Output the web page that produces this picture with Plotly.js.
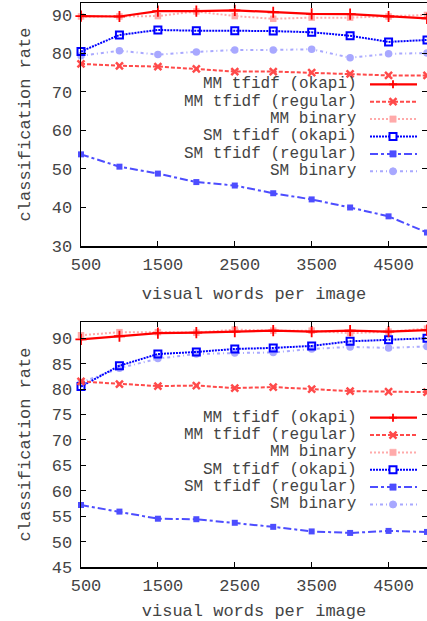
<!DOCTYPE html>
<html>
<head>
<meta charset="utf-8">
<script src="https://cdn.plot.ly/plotly-3.0.1.min.js"></script>
<style>html,body{margin:0;padding:0;background:#fff;}#chart{width:427px;height:621px;}</style>
</head>
<body>
<div id="chart"></div>
<script>
// ---------- data ----------
const wordsPerImage = [500, 1000, 1500, 2000, 2500, 3000, 3500, 4000, 4500, 5000];
const seriesNames = ["MM tfidf (okapi)", "MM tfidf (regular)", "MM binary", "SM tfidf (okapi)", "SM tfidf (regular)", "SM binary"];

// top chart
const topMMOkapi   = [89.7, 89.6, 91.0, 91.0, 91.2, 90.7, 90.3, 90.2, 89.6, 89.1];
const topMMRegular = [77.3, 76.8, 76.6, 76.0, 75.3, 75.3, 75.0, 74.7, 74.3, 74.3];
const topMMBinary  = [89.6, 89.6, 89.7, 90.9, 89.7, 89.0, 89.3, 89.3, 89.6, 90.0];
const topSMOkapi   = [80.5, 84.8, 86.1, 85.9, 85.9, 85.8, 85.5, 84.6, 83.0, 83.5];
const topSMRegular = [53.8, 50.6, 48.8, 46.6, 45.7, 43.7, 42.1, 40.0, 37.7, 33.5];
const topSMBinary  = [79.4, 80.7, 79.7, 80.4, 80.9, 80.9, 81.1, 78.9, 79.9, 80.1];

// bottom chart
const botMMOkapi   = [89.8, 90.4, 91.0, 91.1, 91.3, 91.5, 91.3, 91.5, 91.3, 91.6];
const botMMRegular = [81.5, 81.0, 80.6, 80.7, 80.2, 80.4, 80.0, 79.6, 79.5, 79.4];
const botMMBinary  = [90.6, 91.2, 91.2, 91.1, 91.7, 91.5, 91.5, 91.0, 91.3, 91.9];
const botSMOkapi   = [80.5, 84.6, 86.9, 87.3, 87.9, 88.1, 88.5, 89.4, 89.7, 90.0];
const botSMRegular = [57.2, 55.9, 54.5, 54.4, 53.7, 52.9, 52.0, 51.7, 52.1, 51.9];
const botSMBinary  = [81.3, 84.1, 86.0, 86.9, 87.1, 87.2, 87.9, 88.3, 88.1, 88.4];

const xTickVals = [500, 1500, 2500, 3500, 4500];
const topYTicks = [30, 40, 50, 60, 70, 80, 90];
const botYTicks = [45, 50, 55, 60, 65, 70, 75, 80, 85, 90];
const xTitle = "visual words per image";
const yTitle = "classification rate";

// ---------- styles ----------
const FONT = "Liberation Mono, Courier New, monospace";
const TXT = "#444";
const styles = [
  {color: "#ff0000", dash: "solid", width: 2.2, symbol: "cross-thin-open", msize: 8, mline: 1.8},
  {color: "#ff4a4a", dash: "4px,2px", width: 2, symbol: "x-thin-open", msize: 7, mline: 2.5},
  {color: "#ffaaaa", dash: "2px,2px", width: 2, symbol: "square", msize: 6.5, mline: 0},
  {color: "#0000ff", dash: "2px,1px", width: 2, symbol: "square-open", msize: 7, mline: 2},
  {color: "#4d4dff", dash: "8px,3px,3px,3px", width: 2, symbol: "square", msize: 6, mline: 0},
  {color: "#a8a8ff", dash: "3px,3px,1px,3px", width: 2, symbol: "circle", msize: 7.5, mline: 0}
];

const topSeries = [topMMOkapi, topMMRegular, topMMBinary, topSMOkapi, topSMRegular, topSMBinary];
const botSeries = [botMMOkapi, botMMRegular, botMMBinary, botSMOkapi, botSMRegular, botSMBinary];

const drawOrder = [5, 4, 3, 2, 1, 0];
const traces = [];
[[topSeries, "x", "y"], [botSeries, "x2", "y2"]].forEach(([ser, xa, ya]) => {
  drawOrder.forEach(i => {
    const s = styles[i];
    traces.push({
      type: "scatter", mode: "lines+markers",
      x: wordsPerImage, y: ser[i], name: seriesNames[i],
      xaxis: xa, yaxis: ya, showlegend: false,
      line: {color: s.color, width: s.width, dash: s.dash},
      marker: {symbol: s.symbol, size: s.msize, color: s.color,
               line: {color: s.color, width: s.mline}},
      cliponaxis: false
    });
  });
});

// ---------- geometry ----------
const W = 427, H = 621, ML = 81, MR = 0, MT = 3, MB = 54;
const PW = W - ML - MR, PH = H - MT - MB;
const px = v => (v - ML) / PW;
const py = v => (H - MB - v) / PH;

// ---------- custom legend (text left, sample right) ----------
const annotations = [];
const shapes = [];
function legend(rowStartY, rowStep) {
  seriesNames.forEach((name, i) => {
    const yy = rowStartY + i * rowStep;
    const s = styles[i];
    annotations.push({
      xref: "paper", yref: "paper", x: px(358), y: py(yy),
      xanchor: "right", yanchor: "middle", showarrow: false, borderpad: 0,
      text: name, font: {family: FONT, size: 16, color: TXT}
    });
    shapes.push({type: "line", xref: "paper", yref: "paper",
      x0: px(370), x1: px(417), y0: py(yy), y1: py(yy),
      line: {color: s.color, width: s.width, dash: s.dash}});
    const cx = 393, r = s.symbol === "circle" ? 3.5 : 3.2;
    if (s.symbol === "cross-thin-open") {
      shapes.push({type: "line", xref: "paper", yref: "paper", x0: px(cx - 4), x1: px(cx + 4), y0: py(yy), y1: py(yy), line: {color: s.color, width: 1.8}});
      shapes.push({type: "line", xref: "paper", yref: "paper", x0: px(cx), x1: px(cx), y0: py(yy - 4), y1: py(yy + 4), line: {color: s.color, width: 1.8}});
    } else if (s.symbol === "x-thin-open") {
      shapes.push({type: "line", xref: "paper", yref: "paper", x0: px(cx - 3.5), x1: px(cx + 3.5), y0: py(yy - 3.5), y1: py(yy + 3.5), line: {color: s.color, width: 2.5}});
      shapes.push({type: "line", xref: "paper", yref: "paper", x0: px(cx - 3.5), x1: px(cx + 3.5), y0: py(yy + 3.5), y1: py(yy - 3.5), line: {color: s.color, width: 2.5}});
    } else if (s.symbol === "circle") {
      shapes.push({type: "circle", xref: "paper", yref: "paper", x0: px(cx - r), x1: px(cx + r), y0: py(yy - r), y1: py(yy + r), fillcolor: s.color, line: {color: s.color, width: 1}});
    } else if (s.symbol === "square-open") {
      shapes.push({type: "rect", xref: "paper", yref: "paper", x0: px(cx - 3.5), x1: px(cx + 3.5), y0: py(yy - 3.5), y1: py(yy + 3.5), fillcolor: "#ffffff", line: {color: s.color, width: 2}});
    } else {
      shapes.push({type: "rect", xref: "paper", yref: "paper", x0: px(cx - r), x1: px(cx + r), y0: py(yy - r), y1: py(yy + r), fillcolor: s.color, line: {color: s.color, width: 0.5}});
    }
  });
}
legend(84.3, 17.4);
legend(417.7, 17.35);

// ---------- axes ----------
const tickFont = {family: FONT, size: 17, color: TXT};
function xAxis(anchor) {
  return {
    anchor: anchor, range: [500, 5000], tickvals: xTickVals, ticktext: xTickVals.map(String),
    ticks: "inside", ticklen: 5, tickwidth: 1, tickcolor: "#000",
    showline: true, linecolor: "#000", linewidth: 1.5, mirror: "ticks",
    showgrid: false, zeroline: false, tickfont: tickFont, ticklabelshift: 5, ticklabelstandoff: 2,
    title: {text: xTitle, font: {family: FONT, size: 17, color: TXT}, standoff: 13},
    automargin: false
  };
}
function yAxis(anchor, domain, range, ticks) {
  return {
    anchor: anchor, domain: domain, range: range, tickvals: ticks, ticktext: ticks.map(String),
    ticks: "inside", ticklen: 5, tickwidth: 1, tickcolor: "#000",
    showline: true, linecolor: "#000", linewidth: 1.5, mirror: "ticks",
    showgrid: false, zeroline: false, tickfont: tickFont, ticklabelstandoff: 4,
    title: {text: yTitle, font: {family: FONT, size: 17, color: TXT}, standoff: 16},
    automargin: false
  };
}

const layout = {
  width: W, height: H,
  margin: {l: ML, r: MR, t: MT, b: MB, pad: 0},
  paper_bgcolor: "#fff", plot_bgcolor: "#fff",
  showlegend: false,
  xaxis: xAxis("y"),
  yaxis: yAxis("x", [py(246), 1], [30, 93.1], topYTicks),
  xaxis2: xAxis("y2"),
  yaxis2: yAxis("x2", [0, py(322)], [45, 93.2], botYTicks),
  annotations: annotations,
  shapes: shapes
};

Plotly.newPlot("chart", traces, layout, {displayModeBar: false, staticPlot: true});
</script>
</body>
</html>
